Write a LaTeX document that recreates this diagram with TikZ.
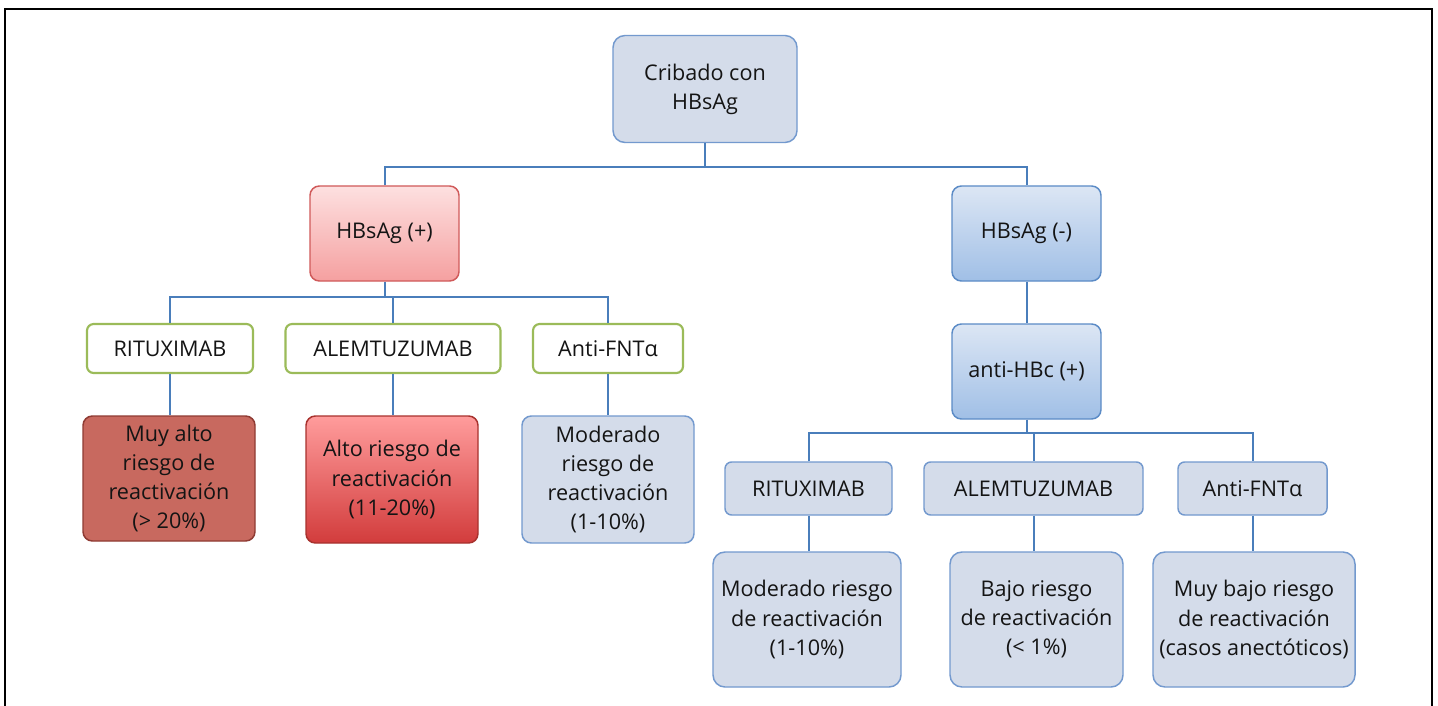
\documentclass[tikz,border=0pt]{standalone}
\usepackage{fontspec}
\setmainfont{Open Sans}
\definecolor{conn}{HTML}{4A7EBB}
\definecolor{bgfill}{HTML}{D4DCEA}
\definecolor{bgline}{HTML}{7399CE}
\definecolor{grn}{HTML}{9BBB59}
\definecolor{pinktop}{HTML}{FDE0E0}
\definecolor{pinkbot}{HTML}{F5A0A0}
\definecolor{pinkline}{HTML}{D05A5A}
\definecolor{dred}{HTML}{C8695F}
\definecolor{dredline}{HTML}{8F3B33}
\definecolor{redtop}{HTML}{FF9C9C}
\definecolor{redbot}{HTML}{D23C3C}
\definecolor{redline}{HTML}{A8322E}
\definecolor{bltop}{HTML}{DCE6F4}
\definecolor{blbot}{HTML}{A0BFE6}
\definecolor{blline}{HTML}{5B8BC6}
\tikzset{
  sz/.style 2 args={minimum width=#1*0.75pt, minimum height=#2*0.75pt},
  base/.style={rectangle, rounded corners=7pt, align=center, inner sep=1pt,
    font=\fontsize{16.2}{21.8}\selectfont, text=black!92, line width=1.1pt},
  greybox/.style={base, draw=bgline, fill=bgfill},
  greenbox/.style={base, draw=grn, fill=white, line width=1.6pt, rounded corners=5pt},
  pinkbox/.style={base, draw=pinkline, top color=pinktop, bottom color=pinkbot},
  dredbox/.style={base, draw=dredline, fill=dred},
  redbox/.style={base, draw=redline, top color=redtop, bottom color=redbot},
  bluebox/.style={base, draw=blline, top color=bltop, bottom color=blbot},
  link/.style={draw=conn, line width=1.5pt},
}
\begin{document}
\begin{tikzpicture}[x=0.75pt, y=-0.75pt]
\useasboundingbox (0,0) rectangle (1438,706);
\fill[white] (0,0) rectangle (1438,706);
\draw[black, line width=1.4pt] (5,706) -- (5,9) -- (1432,9) -- (1432,706);

\node[greybox, sz={184}{107}, rounded corners=9pt] (top) at (705,89) {Cribado con\\HBsAg};
\node[pinkbox, sz={149}{95}] (pos) at (384.5,233.5) {HBsAg (+)};
\node[bluebox, sz={149}{95}] (neg) at (1026.5,233.5) {HBsAg (-)};
\node[bluebox, sz={149}{95}] (hbc) at (1026.5,371.5) {anti-HBc (+)};

\node[greenbox, sz={166}{49}] (lr) at (170,348.5) {RITUXIMAB};
\node[greenbox, sz={215}{49}] (la) at (393,348.5) {ALEMTUZUMAB};
\node[greenbox, sz={150}{49}] (lf) at (608,348.5) {Anti-FNTα};

\node[dredbox, sz={172}{125}] (lr2) at (169,478.5) {Muy alto\\riesgo de\\reactivación\\(> 20\%)};
\node[redbox, sz={172}{127}] (la2) at (392,479.5) {Alto riesgo de\\reactivación\\(11-20\%)};
\node[greybox, sz={172}{127}] (lf2) at (608,479.5) {Moderado\\riesgo de\\reactivación\\(1-10\%)};

\node[greybox, sz={167}{53}, rounded corners=5pt] (rr) at (808.5,488.5) {RITUXIMAB};
\node[greybox, sz={219}{53}, rounded corners=5pt] (ra) at (1033.5,488.5) {ALEMTUZUMAB};
\node[greybox, sz={149}{53}, rounded corners=5pt] (rf) at (1252.5,488.5) {Anti-FNTα};

\node[greybox, sz={188}{135}, rounded corners=9pt] (rr2) at (807,619.5) {Moderado riesgo\\de reactivación\\(1-10\%)};
\node[greybox, sz={173}{135}, rounded corners=9pt] (ra2) at (1036.5,619.5) {Bajo riesgo\\de reactivación\\(< 1\%)};
\node[greybox, sz={202}{135}, rounded corners=9pt] (rf2) at (1254,619.5) {Muy bajo riesgo\\de reactivación\\(casos anectóticos)};

\coordinate (j1) at (705,167);
\coordinate (j2) at (384.5,297);
\coordinate (j3) at (1026.5,433);

\draw[link] (top.south) -- (j1);
\draw[link] (pos.north) |- (j1) -| (neg.north);
\draw[link] (pos.south) -- (j2);
\draw[link] (lr.north) |- (j2) -| (lf.north);
\draw[link] (la.north |- j2) -- (la.north);
\draw[link] (lr.south) -- (lr.south |- lr2.north);
\draw[link] (la.south) -- (la.south |- la2.north);
\draw[link] (lf.south) -- (lf2.north);
\draw[link] (neg.south) -- (hbc.north);
\draw[link] (hbc.south) -- (j3);
\draw[link] (rr.north) |- (j3) -| (rf.north);
\draw[link] (ra.north |- j3) -- (ra.north);
\draw[link] (rr.south) -- (rr.south |- rr2.north);
\draw[link] (ra.south) -- (ra.south |- ra2.north);
\draw[link] (rf.south) -- (rf.south |- rf2.north);
\end{tikzpicture}
\end{document}
